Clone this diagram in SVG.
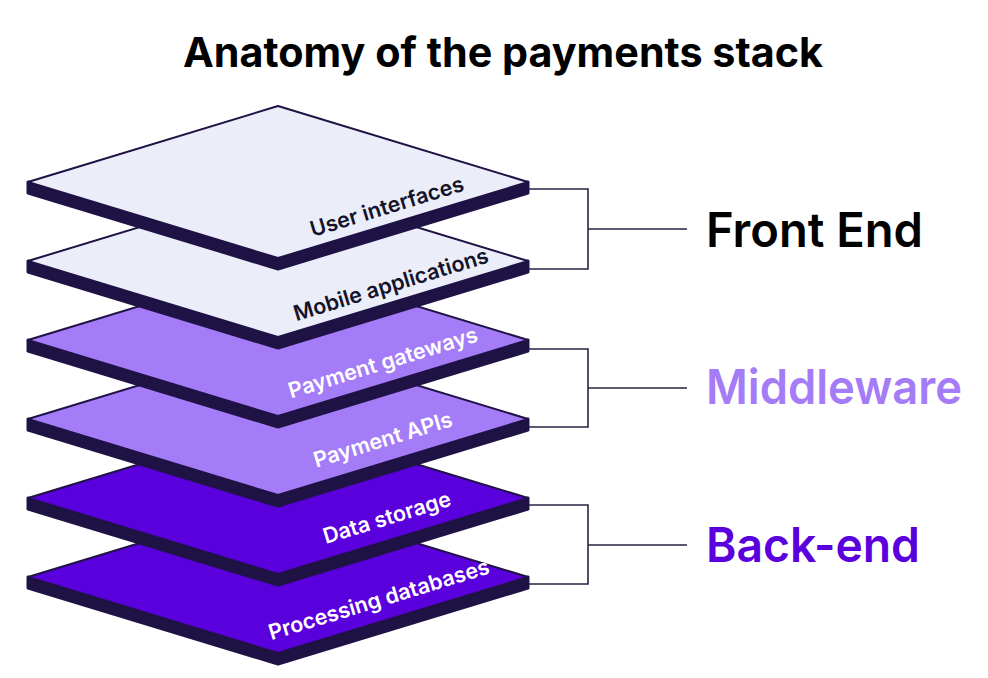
<svg xmlns="http://www.w3.org/2000/svg" width="988" height="678" viewBox="0 0 988 678">
<defs>
<style>
.edge{fill:#1f1245;stroke:#1f1245;stroke-width:3;stroke-linejoin:round}
.face{stroke:#1f1245;stroke-width:2;stroke-linejoin:round}
.light{fill:#ebeef8}
.mid{fill:#a57cf8}
.back{fill:#5a00dc}
.lbl{font-family:Inter,"Noto Sans","Liberation Sans",sans-serif;font-weight:600;font-size:21.5px;text-anchor:middle}
.dk{fill:#14132a}
.wh{fill:#ffffff}
.big{font-family:Inter,"Noto Sans","Liberation Sans",sans-serif;font-weight:600;font-size:48px}
.conn{fill:none;stroke:#2a2342;stroke-width:1.6}
</style>
</defs>
<rect width="988" height="678" fill="#ffffff"/>
<text x="503" y="67" font-family="Inter,'Noto Sans','Liberation Sans',sans-serif" font-weight="700" font-size="41" text-anchor="middle" fill="#000" textLength="640" lengthAdjust="spacingAndGlyphs">Anatomy of the payments stack</text>

<g id="layer-processing-databases" transform="translate(0,395)">
<polygon class="edge" points="28,182 278,258 528,182 528,193 278,269 28,193"/>
<polygon class="face back" points="28,182 278,106 528,182 278,258"/>
<text class="lbl wh" x="379" y="212" transform="rotate(-17 379 205)">Processing databases</text>
</g>
<g id="layer-data-storage" transform="translate(0,316)">
<polygon class="edge" points="28,182 278,258 528,182 528,193 278,269 28,193"/>
<polygon class="face back" points="28,182 278,106 528,182 278,258"/>
<text class="lbl wh" x="387" y="209" transform="rotate(-17 387 202)">Data storage</text>
</g>
<g id="layer-payment-apis" transform="translate(0,237)">
<polygon class="edge" points="28,182 278,258 528,182 528,193 278,269 28,193"/>
<polygon class="face mid" points="28,182 278,106 528,182 278,258"/>
<text class="lbl wh" x="383" y="210" transform="rotate(-17 383 203)">Payment APIs</text>
</g>
<g id="layer-payment-gateways" transform="translate(0,158)">
<polygon class="edge" points="28,182 278,258 528,182 528,193 278,269 28,193"/>
<polygon class="face mid" points="28,182 278,106 528,182 278,258"/>
<text class="lbl wh" x="383" y="212" transform="rotate(-17 383 205)">Payment gateways</text>
</g>
<g id="layer-mobile-applications" transform="translate(0,79)">
<polygon class="edge" points="28,182 278,258 528,182 528,193 278,269 28,193"/>
<polygon class="face light" points="28,182 278,106 528,182 278,258"/>
<text class="lbl dk" x="391" y="213" transform="rotate(-17 391 206)">Mobile applications</text>
</g>
<g id="layer-user-interfaces">
<polygon class="edge" points="28,182 278,258 528,182 528,193 278,269 28,193"/>
<polygon class="face light" points="28,182 278,106 528,182 278,258"/>
<text class="lbl dk" x="387" y="214" transform="rotate(-17 387 207)">User interfaces</text>
</g>

<g id="connectors">
<path class="conn" d="M529,189 H588 V269 H529 M588,229 H687"/>
<path class="conn" d="M529,349 H588 V427 H529 M588,388 H687"/>
<path class="conn" d="M529,505 H588 V584 H529 M588,545 H687"/>
</g>

<g id="label-front-end"><text class="big" x="706" y="247" fill="#000" textLength="217" lengthAdjust="spacingAndGlyphs">Front End</text></g>
<g id="label-middleware"><text class="big" x="706" y="404" fill="#a57cf8" textLength="256" lengthAdjust="spacingAndGlyphs">Middleware</text></g>
<g id="label-back-end"><text class="big" x="706" y="562" fill="#5a00dc" textLength="214" lengthAdjust="spacingAndGlyphs">Back-end</text></g>
</svg>
